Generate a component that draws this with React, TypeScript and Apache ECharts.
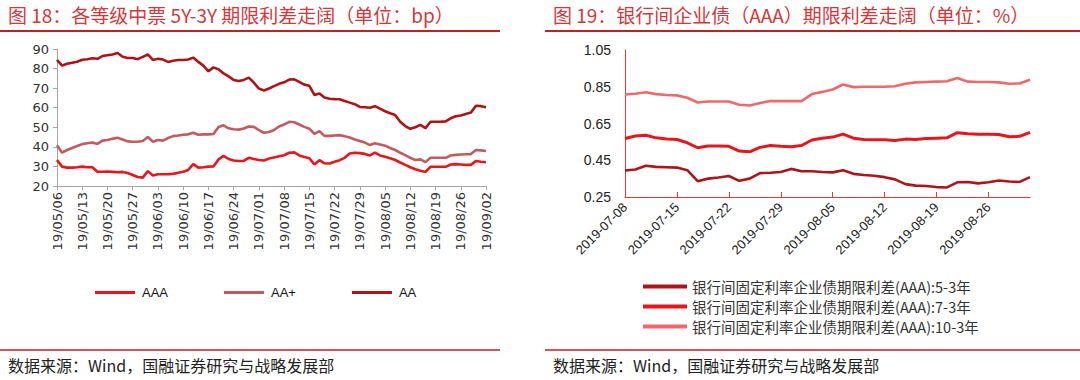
import React, { useEffect, useRef } from "react";
import * as echarts from "echarts";

// ---------- Left chart: 各等级中票 5Y-3Y 期限利差 (bp), business days 2019-05-06 .. 2019-09-02
const leftStart = "2019-05-06";
const leftEnd = "2019-09-02";
const seriesAAA = [
  33.3, 29.9, 29.4, 29.4, 29.6, 29.9, 29.6, 29.6, 27.3, 27.3,
  27.4, 27.2, 27.0, 27.2, 26.6, 25.6, 24.6, 24.3, 27.6, 25.4,
  26.0, 26.0, 26.0, 26.2, 26.8, 27.3, 28.2, 31.2, 29.4, 29.6,
  29.9, 30.0, 33.6, 35.4, 33.8, 33.0, 32.8, 32.8, 34.4, 33.8,
  33.3, 33.0, 34.0, 34.6, 35.2, 35.7, 37.0, 37.2, 35.6, 34.8,
  34.2, 31.0, 33.2, 31.6, 31.5, 32.4, 33.2, 34.4, 36.6, 37.0,
  36.8, 36.4, 35.6, 37.0, 35.6, 35.0, 34.2, 33.3, 32.0, 30.8,
  29.6, 28.6, 27.8, 27.2, 29.8, 29.8, 29.8, 29.8, 31.0, 31.2,
  31.0, 30.8, 30.8, 32.8, 32.4, 32.1,
];
const seriesAAPlus = [
  40.9, 37.0, 38.4, 39.4, 40.4, 41.4, 41.8, 42.2, 41.5, 43.2,
  43.5, 44.2, 44.6, 43.8, 42.8, 42.6, 42.6, 43.0, 45.0, 42.6,
  43.5, 43.2, 44.5, 45.5, 45.8, 46.2, 46.4, 47.2, 46.2, 46.4,
  46.4, 46.6, 50.2, 51.0, 49.5, 49.0, 48.8, 49.4, 50.4, 50.2,
  48.6, 47.2, 47.6, 48.6, 50.4, 51.4, 52.8, 52.6, 51.4, 50.2,
  49.3, 46.6, 48.0, 45.6, 45.6, 45.8, 46.0, 45.4, 44.8, 43.8,
  43.0, 42.2, 40.9, 41.8, 41.2, 40.6, 39.4, 38.4, 37.0, 35.8,
  34.4, 33.3, 33.6, 32.2, 34.4, 34.4, 34.4, 34.4, 35.6, 35.9,
  36.1, 36.2, 36.3, 38.4, 38.2, 37.9,
];
const seriesAA = [
  84.4, 81.5, 82.5, 83.0, 83.5, 84.5, 84.8, 85.3, 85.0, 86.4,
  86.8, 87.2, 88.0, 86.0, 85.4, 85.4, 84.8, 86.0, 87.2, 84.4,
  85.0, 84.6, 83.4, 84.0, 84.4, 84.4, 84.6, 85.6, 83.4, 81.5,
  78.6, 80.6, 79.6, 77.5, 76.0, 74.2, 73.6, 74.2, 75.4, 72.8,
  69.8, 68.8, 69.8, 71.0, 72.2, 73.0, 74.4, 74.5, 73.2, 71.8,
  71.2, 66.5, 67.3, 65.2, 64.6, 64.4, 64.3, 63.4, 62.6, 61.8,
  60.4, 60.2, 60.0, 60.8, 59.5, 58.2, 57.2, 56.3, 52.8, 50.6,
  49.2, 50.0, 51.2, 49.6, 52.8, 52.8, 52.8, 53.0, 54.6, 55.6,
  56.0, 56.8, 57.5, 61.0, 60.8, 60.2,
];
const leftNames = ["AAA", "AA+", "AA"];

// ---------- Right chart: 银行间企业债(AAA)期限利差 (%), business days 2019-07-08 .. 2019-08-30
const rightStart = "2019-07-08";
const rightEnd = "2019-08-30";
const series53 = [
  0.394, 0.400, 0.420, 0.414, 0.412, 0.410, 0.396, 0.336, 0.350, 0.356,
  0.364, 0.338, 0.350, 0.380, 0.382, 0.386, 0.403, 0.390, 0.390, 0.386,
  0.384, 0.396, 0.376, 0.370, 0.366, 0.358, 0.346, 0.320, 0.312, 0.310,
  0.304, 0.302, 0.330, 0.332, 0.324, 0.330, 0.340, 0.334, 0.332, 0.358,
];
const series73 = [
  0.568, 0.582, 0.586, 0.572, 0.566, 0.563, 0.545, 0.518, 0.528, 0.528,
  0.526, 0.500, 0.496, 0.520, 0.530, 0.526, 0.524, 0.530, 0.560, 0.570,
  0.576, 0.592, 0.570, 0.563, 0.562, 0.562, 0.558, 0.565, 0.563, 0.568,
  0.570, 0.572, 0.600, 0.594, 0.592, 0.592, 0.590, 0.578, 0.580, 0.602,
];
const series103 = [
  0.808, 0.812, 0.820, 0.810, 0.805, 0.803, 0.790, 0.764, 0.770, 0.770,
  0.770, 0.752, 0.748, 0.762, 0.772, 0.772, 0.772, 0.772, 0.810, 0.822,
  0.835, 0.862, 0.848, 0.850, 0.850, 0.850, 0.853, 0.866, 0.874, 0.876,
  0.878, 0.880, 0.898, 0.878, 0.876, 0.876, 0.874, 0.866, 0.868, 0.888,
];
const rightNames = [
  "银行间固定利率企业债期限利差(AAA):5-3年",
  "银行间固定利率企业债期限利差(AAA):7-3年",
  "银行间固定利率企业债期限利差(AAA):10-3年",
];
const rightYTicks = { min: 0.25, max: 1.05, interval: 0.2 };
const leftYTicks = { min: 20, max: 90, interval: 10 };

const titleLeft = "图 18：各等级中票 5Y-3Y 期限利差走阔（单位：bp）";
const titleRight = "图 19：银行间企业债（AAA）期限利差走阔（单位：%）";
const sourceText = "数据来源：Wind，国融证券研究与战略发展部";

function businessDays(start: string, end: string): Date[] {
  const out: Date[] = [];
  const d = new Date(start + "T00:00:00Z");
  const e = new Date(end + "T00:00:00Z");
  while (d <= e) {
    const wd = d.getUTCDay();
    if (wd !== 0 && wd !== 6) out.push(new Date(d.getTime()));
    d.setUTCDate(d.getUTCDate() + 1);
  }
  return out;
}
const p2 = (n: number) => String(n).padStart(2, "0");
const leftDates = businessDays(leftStart, leftEnd).map(
  (d) => `${String(d.getUTCFullYear()).slice(2)}/${p2(d.getUTCMonth() + 1)}/${p2(d.getUTCDate())}`
);
const rightDates = businessDays(rightStart, rightEnd).map(
  (d) => `${d.getUTCFullYear()}-${p2(d.getUTCMonth() + 1)}-${p2(d.getUTCDate())}`
);

const LAT = "'Liberation Sans', Arial, sans-serif";
const DJV = "'DejaVu Sans', Verdana, sans-serif";
const CJK = "'Noto Sans CJK SC', sans-serif";
const leftColors = ["#e8161c", "#c45a60", "#b01218"];
const rightColors = ["#ae141b", "#e8161c", "#f0686c"];
const grayAxis = "#a6a6a6";
const redAxis = "#dc3c3c";

export default function App() {
  const ref = useRef<HTMLDivElement>(null);
  useEffect(() => {
    if (!ref.current) return;
    const chart = echarts.init(ref.current, undefined, { renderer: "svg" });
    const option: any = {
      animation: false,
      backgroundColor: "#ffffff",
      grid: [
        { left: 57, top: 49, width: 429, height: 137 },
        { left: 625, top: 50, width: 405, height: 147 },
      ],
      xAxis: [
        {
          type: "category",
          gridIndex: 0,
          data: leftDates,
          boundaryGap: false,
          axisLine: { lineStyle: { color: grayAxis, width: 1 } },
          axisTick: { show: true, interval: 4, length: 4, lineStyle: { color: grayAxis } },
          axisLabel: { interval: 4, rotate: 90, fontSize: 13, color: "#333", fontFamily: DJV, margin: 6 },
          splitLine: { show: false },
        },
        {
          type: "category",
          gridIndex: 1,
          data: rightDates,
          boundaryGap: false,
          axisLine: { lineStyle: { color: redAxis, width: 1 } },
          axisTick: { show: true, inside: true, interval: 4, length: 5, lineStyle: { color: redAxis } },
          axisLabel: { interval: 4, rotate: 45, fontSize: 13, color: "#222", fontFamily: LAT, margin: 8 },
          splitLine: { show: false },
        },
      ],
      yAxis: [
        {
          type: "value",
          gridIndex: 0,
          min: leftYTicks.min,
          max: leftYTicks.max,
          interval: leftYTicks.interval,
          axisLine: { show: true, lineStyle: { color: grayAxis } },
          axisTick: { show: true, length: 4, lineStyle: { color: grayAxis } },
          axisLabel: { fontSize: 13, color: "#333", fontFamily: DJV, margin: 8 },
          splitLine: { show: false },
        },
        {
          type: "value",
          gridIndex: 1,
          min: rightYTicks.min,
          max: rightYTicks.max,
          interval: rightYTicks.interval,
          axisLine: { show: true, lineStyle: { color: redAxis } },
          axisTick: { show: false },
          axisLabel: {
            fontSize: 14,
            color: "#222",
            fontFamily: LAT,
            margin: 14,
            formatter: (v: number) => v.toFixed(2),
          },
          splitLine: { show: false },
        },
      ],
      legend: [
        {
          data: leftNames,
          left: 90,
          top: 281,
          icon: "rect",
          itemWidth: 40,
          itemHeight: 3,
          itemGap: 56,
          textStyle: { fontSize: 13, color: "#111", fontFamily: LAT, padding: [0, 0, 0, 2] },
        },
        {
          data: rightNames,
          orient: "vertical",
          left: 638,
          top: 273,
          icon: "rect",
          itemWidth: 44,
          itemHeight: 4,
          itemGap: 3,
          textStyle: { fontSize: 14.5, color: "#333", fontFamily: CJK, lineHeight: 17 },
        },
      ],
      series: [
        { name: "AAA", data: seriesAAA, color: leftColors[0] },
        { name: "AA+", data: seriesAAPlus, color: leftColors[1] },
        { name: "AA", data: seriesAA, color: leftColors[2] },
      ]
        .map((s) => ({
          ...s,
          type: "line",
          xAxisIndex: 0,
          yAxisIndex: 0,
          symbol: "none",
          lineStyle: { width: 2.6, color: s.color },
          itemStyle: { color: s.color },
        }))
        .concat(
          [
            { name: rightNames[0], data: series53, color: rightColors[0], w: 2.6 },
            { name: rightNames[1], data: series73, color: rightColors[1], w: 3 },
            { name: rightNames[2], data: series103, color: rightColors[2], w: 2.6 },
          ].map((s) => ({
            name: s.name,
            data: s.data,
            type: "line",
            xAxisIndex: 1,
            yAxisIndex: 1,
            symbol: "none",
            lineStyle: { width: s.w, color: s.color },
            itemStyle: { color: s.color },
          })) as any
        ),
      graphic: [
        {
          type: "text",
          left: 8,
          top: 5,
          style: { text: titleLeft, fill: "#d4373b", font: `19px ${CJK}` },
        },
        {
          type: "text",
          left: 553,
          top: 5,
          style: { text: titleRight, fill: "#d4373b", font: `19px ${CJK}` },
        },
        { type: "line", shape: { x1: 0, y1: 31, x2: 500, y2: 31 }, style: { stroke: "#c81e1e", lineWidth: 2 } },
        { type: "line", shape: { x1: 545, y1: 31, x2: 1080, y2: 31 }, style: { stroke: "#c81e1e", lineWidth: 2 } },
        { type: "line", shape: { x1: 0, y1: 350, x2: 500, y2: 350 }, style: { stroke: "#c81e1e", lineWidth: 1.5 } },
        { type: "line", shape: { x1: 545, y1: 350, x2: 1080, y2: 350 }, style: { stroke: "#c81e1e", lineWidth: 1.5 } },
        {
          type: "text",
          left: 8,
          top: 357,
          style: { text: sourceText, fill: "#222", font: `16px ${CJK}` },
        },
        {
          type: "text",
          left: 553,
          top: 357,
          style: { text: sourceText, fill: "#222", font: `16px ${CJK}` },
        },
      ],
    };
    chart.setOption(option);
    return () => chart.dispose();
  }, []);
  return (
    <div
      ref={ref}
      style={{ position: "absolute", left: 0, top: 0, width: 1080, height: 380, background: "#fff" }}
    />
  );
}
